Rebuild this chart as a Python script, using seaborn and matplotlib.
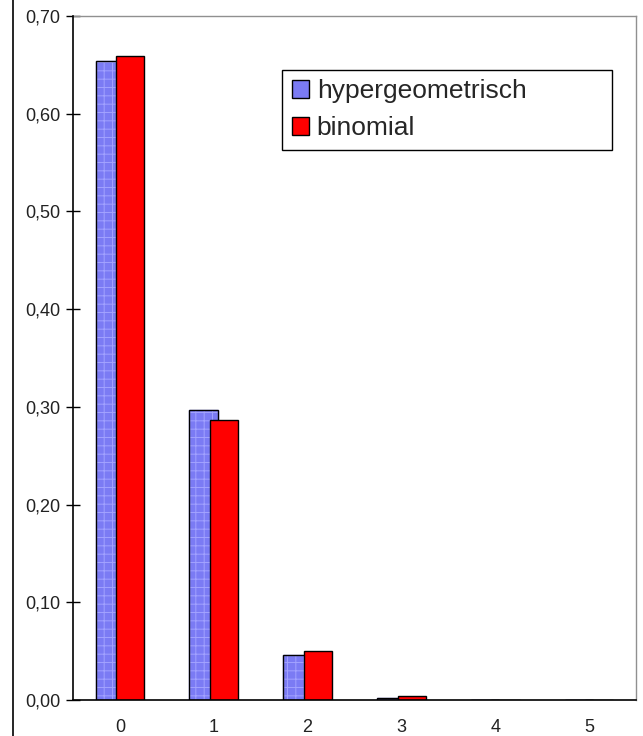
import numpy as np
import pandas as pd
import matplotlib
matplotlib.use('Agg')
import matplotlib.pyplot as plt
from matplotlib.lines import Line2D
from matplotlib.patches import Rectangle
from matplotlib.ticker import FuncFormatter, MultipleLocator
import seaborn as sns

# values
k_values = [0, 1, 2, 3, 4, 5]
hypergeo = [0.654, 0.297, 0.046, 0.0025, 0.0, 0.0]
binomial = [0.659, 0.287, 0.050, 0.0043, 0.0, 0.0]
series_names = ['hypergeometrisch', 'binomial']

df = pd.DataFrame({
    'k': k_values * 2,
    'p': hypergeo + binomial,
    'verteilung': [series_names[0]] * 6 + [series_names[1]] * 6,
})

sns.set_style('white')
plt.rcParams['font.family'] = ['Liberation Sans', 'DejaVu Sans']
plt.rcParams['hatch.linewidth'] = 0.7

fig = plt.figure(figsize=(6.43, 7.36), dpi=100)
ax = fig.add_axes([73 / 643, 1 - 700 / 736, 563 / 643, 684 / 736])

sns.barplot(data=df, x='k', y='p', hue='verteilung', ax=ax, width=0.6,
            palette=['#7b7bf4', '#ff0000'], edgecolor='black', linewidth=1,
            saturation=1, legend=True)

# Excel-style overlap of the two bars in a group, stipple on the blue ones
shift = 0.04
for i, bar in enumerate(ax.patches[:12]):
    if i < 6:
        bar.set_x(bar.get_x() + shift)
        bar.set_zorder(2)
        bar.set_hatch('++')
        bar.set_edgecolor('#a2a2ff')
        ax.add_patch(Rectangle((bar.get_x(), 0), bar.get_width(), bar.get_height(),
                               fill=False, edgecolor='black', linewidth=1, zorder=2.1))
    else:
        bar.set_x(bar.get_x() - shift)
        bar.set_zorder(2.2)

ax.set_xlim(-0.5, 5.5)
ax.set_ylim(0, 0.70)
ax.yaxis.set_major_locator(MultipleLocator(0.1))
ax.yaxis.set_major_formatter(FuncFormatter(lambda v, _: f'{v:.2f}'.replace('.', ',')))
ax.set_xticks(range(6))
ax.set_xticks(np.arange(-0.5, 6, 1), minor=True)
ax.tick_params(axis='x', which='major', length=0, pad=14, labelsize=13, labelcolor='#222222')
ax.tick_params(axis='x', which='minor', direction='inout', length=10, width=1, color='black')
ax.tick_params(axis='y', direction='inout', length=10, width=1, color='black',
               left=True, labelsize=13, pad=4, labelcolor='#222222')
ax.set_xlabel('')
ax.set_ylabel('')

for side in ['left', 'bottom']:
    ax.spines[side].set_color('black')
    ax.spines[side].set_linewidth(1.2)
    ax.spines[side].set_zorder(3)
for side in ['top', 'right']:
    ax.spines[side].set_color('#909090')
    ax.spines[side].set_linewidth(1)

handles, labels = ax.get_legend_handles_labels()
leg = ax.legend(handles, labels, loc='upper left',
                bbox_to_anchor=(0.372, 0.921 - 0.114, 0.586, 0.114), mode='expand',
                fontsize=19, frameon=True, fancybox=False, framealpha=1, edgecolor='black',
                handlelength=0.65, handleheight=0.65, handletextpad=0.3,
                borderpad=0.35, labelspacing=0.5, borderaxespad=0)
leg.get_frame().set_linewidth(1)
for h in leg.legend_handles:
    h.set_edgecolor('black')
    h.set_hatch(None)
    h.set_linewidth(1)

# left edge of the outer chart border
fig.add_artist(Line2D([12.5 / 643, 12.5 / 643], [0, 1], color='black', linewidth=1.2))

fig.savefig('out.png', dpi=100)
plt.close(fig)
